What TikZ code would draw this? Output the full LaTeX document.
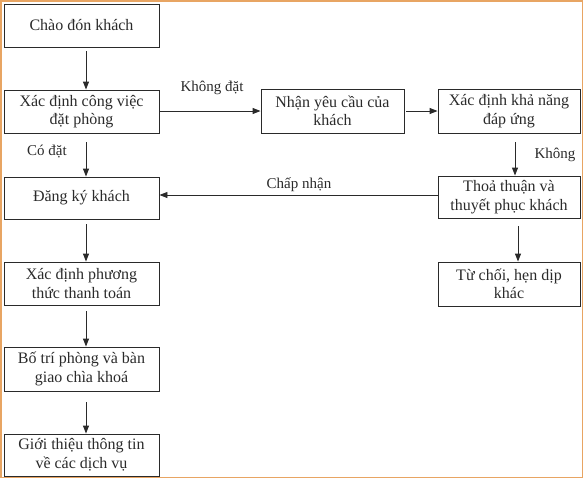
\documentclass[tikz,border=0pt]{standalone}
\usepackage{fontspec}
\setmainfont{Liberation Serif}
\usetikzlibrary{arrows.meta,calc}
\definecolor{bord}{HTML}{E8A563}
\definecolor{ink}{HTML}{2A2A2A}
\begin{document}
\begin{tikzpicture}[x=1pt,y=-1pt,
  box/.style={draw=ink,line width=0.9pt,rectangle,align=center,inner sep=0pt,
    text=ink,font=\fontsize{16}{18.5}\selectfont},
  lbl/.style={text=ink,font=\fontsize{15}{17}\selectfont,inner sep=0pt},
  arr/.style={draw=ink,line width=0.9pt,-{Triangle[length=8pt,width=6pt]}}]
\useasboundingbox (0,0) rectangle (584,480);
\draw[bord,line width=1.5pt] (1,1) rectangle (582.5,477.5);
% left column
\node[box,minimum width=155,minimum height=43] (b1) at (81.5,25.5) {Chào đón khách};
\node[box,minimum width=155,minimum height=43] (b2) at (81.5,111.5) {Xác định công việc\\đặt phòng};
\node[box,minimum width=155,minimum height=42] (b3) at (81.5,198) {Đăng ký khách};
\node[box,minimum width=155,minimum height=43] (b4) at (81.5,283.5) {Xác định phương\\thức thanh toán};
\node[box,minimum width=155,minimum height=44] (b5) at (81.5,369) {Bố trí phòng và bàn\\giao chìa khoá};
\node[box,minimum width=155,minimum height=42] (b6) at (81.5,455) {Giới thiệu thông tin\\về các dịch vụ};
% right boxes
\node[box,minimum width=143,minimum height=44] (r1) at (332.5,111) {Nhận yêu cầu của\\khách};
\node[box,minimum width=142,minimum height=44] (r2) at (509,111) {Xác định khả năng\\đáp ứng};
\node[box,minimum width=142,minimum height=42] (r3) at (509,197) {Thoả thuận và\\thuyết phục khách};
\node[box,minimum width=142,minimum height=44] (r4) at (509,284) {Từ chối, hẹn dịp\\khác};
% axis coordinates
\coordinate (axL) at (86,0);
\coordinate (axR1) at (515,0);
\coordinate (axR2) at (518,0);
\coordinate (ayA) at (0,195);
% connectors
\draw[arr] ($(b1.south -| axL)+(0,4)$) -- (b2.north -| axL);
\draw[arr] ($(b2.south -| axL)+(0,9)$) -- (b3.north -| axL);
\draw[arr] ($(b3.south -| axL)+(0,5)$) -- (b4.north -| axL);
\draw[arr] ($(b4.south -| axL)+(0,6)$) -- (b5.north -| axL);
\draw[arr] ($(b5.south -| axL)+(0,11)$) -- (b6.north -| axL);
\draw[arr] (b2.east |- r1) -- (r1.west);
\draw[arr] ($(r1.east)+(2,0)$) -- (r2.west);
\draw[arr] ($(r2.south -| axR1)+(0,9)$) -- (r3.north -| axR1);
\draw[arr] ($(r3.south -| axR2)+(0,8)$) -- (r4.north -| axR2);
\draw[arr] (r3.west |- ayA) -- (b3.east |- ayA);
% labels
\node[lbl] (l1) at (212,88) {Không đặt};
\node[lbl] (l2) at (47,152) {Có đặt};
\node[lbl] (l3) at (555,155) {Không};
\node[lbl] (l4) at (299,185) {Chấp nhận};
\end{tikzpicture}
\end{document}
